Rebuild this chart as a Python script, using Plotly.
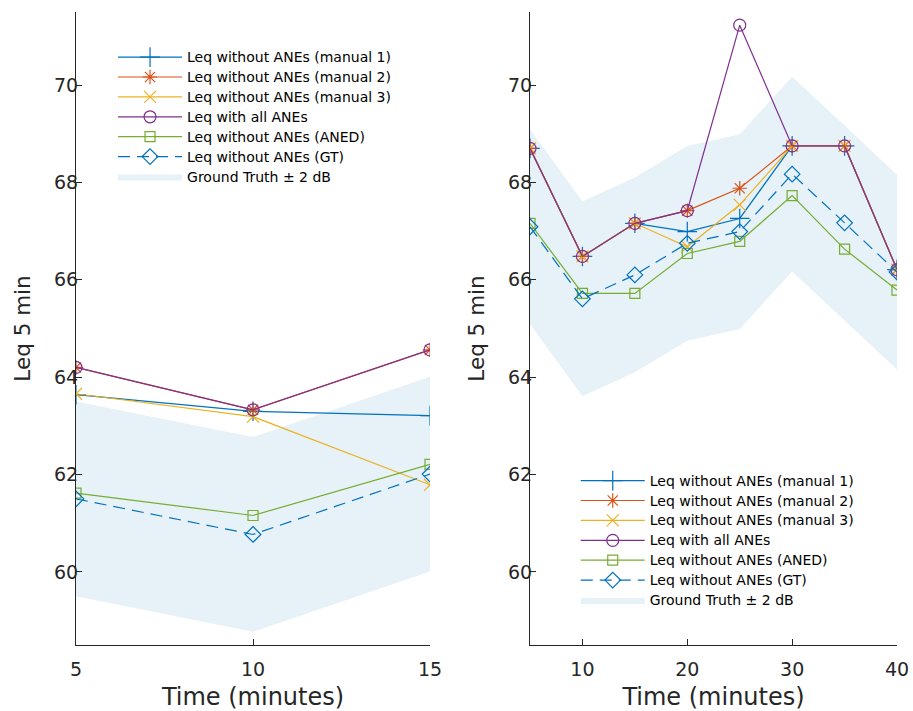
import plotly.graph_objects as go

# ---------------- data ----------------
left_time = [5, 10, 15]
left_manual1 = [63.64, 63.30, 63.21]
left_manual2 = [64.20, 63.33, 64.56]
left_manual3 = [63.66, 63.19, 61.79]
left_all = [64.20, 63.33, 64.56]
left_aned = [61.62, 61.16, 62.21]
left_gt = [61.50, 60.77, 62.01]

right_time = [5, 10, 15, 20, 25, 30, 35, 40]
right_manual1 = [68.70, 66.48, 67.16, 66.99, 67.26, 68.75, 68.75, 66.21]
right_manual2 = [68.70, 66.48, 67.16, 67.42, 67.88, 68.75, 68.75, 66.21]
right_manual3 = [68.70, 66.48, 67.16, 66.68, 67.54, 68.75, 68.75, 66.21]
right_all = [68.70, 66.48, 67.16, 67.42, 71.23, 68.75, 68.75, 66.21]
right_aned = [67.16, 65.72, 65.72, 66.54, 66.79, 67.73, 66.63, 65.79]
right_gt = [67.09, 65.61, 66.10, 66.75, 66.99, 68.17, 67.17, 66.16]

band_halfwidth = 2.0

names = ["Leq without ANEs (manual 1)", "Leq without ANEs (manual 2)",
         "Leq without ANEs (manual 3)", "Leq with all ANEs",
         "Leq without ANEs (ANED)", "Leq without ANEs (GT)"]
band_name = "Ground Truth \u00b1 2 dB"
y_ticks = [60, 62, 64, 66, 68, 70]
left_xticks = [5, 10, 15]
right_xticks = [10, 20, 30, 40]

colors = ["#0072BD", "#D95319", "#EDB120", "#7E2F8E", "#77AC30", "#0072BD"]
symbols = ["cross-thin", "asterisk-open", "x-thin-open", "circle-open",
           "square-open", "diamond-open"]
sizes = [14, 12, 12, 12, 10, 12]
dashes = ["solid"] * 5 + ["12px,7px"]
band_color = "#E6F1F8"
axis_color = "#262626"


def leg_label(s):
    return '<span style="font-size:14px">' + s + '</span>'


fig = go.Figure()


def add_panel(t, series, gt, xa, ya, legend):
    lo = [v - band_halfwidth for v in gt]
    hi = [v + band_halfwidth for v in gt]
    fig.add_trace(go.Scatter(
        x=list(t) + list(t)[::-1], y=hi + lo[::-1], fill="toself",
        fillcolor=band_color, mode="lines", line=dict(width=0, color=band_color),
        name=leg_label(band_name), legend=legend, legendrank=2000,
        xaxis=xa, yaxis=ya, hoverinfo="skip"))
    for i, s in enumerate(series):
        fig.add_trace(go.Scatter(
            x=t, y=s, mode="lines+markers", name=leg_label(names[i]),
            legend=legend, legendrank=1000 + i,
            line=dict(color=colors[i], width=1.2, dash=dashes[i]),
            marker=dict(symbol=symbols[i], size=sizes[i], color=colors[i],
                        line=dict(color=colors[i], width=1.2)),
            xaxis=xa, yaxis=ya))


add_panel(left_time, [left_manual1, left_manual2, left_manual3, left_all,
                      left_aned, left_gt], left_gt, "x", "y", "legend")
add_panel(right_time, [right_manual1, right_manual2, right_manual3, right_all,
                       right_aned, right_gt], right_gt, "x2", "y2", "legend2")

axis_common = dict(showline=True, linecolor=axis_color, linewidth=1,
                   ticks="inside", ticklen=6, tickcolor=axis_color, tickwidth=1,
                   showgrid=False, zeroline=False, mirror=False, automargin=False,
                   tickfont=dict(family="DejaVu Sans", size=19, color=axis_color))

xtitle = dict(text="Time (minutes)", font=dict(size=24), standoff=23)
ytitle = dict(text="Leq 5 min", font=dict(size=21.5), standoff=17)

fig.update_layout(
    width=913, height=711,
    margin=dict(l=76, r=16, t=12, b=66, autoexpand=False),
    paper_bgcolor="white", plot_bgcolor="white",
    font=dict(family="DejaVu Sans", color=axis_color),
    xaxis=dict(domain=[0, 0.4312], range=[5, 15], tickvals=left_xticks,
               title=xtitle, anchor="y", ticklabelstandoff=7, **axis_common),
    yaxis=dict(range=[58.5, 71.5], tickvals=y_ticks, title=ytitle,
               anchor="x", ticklabelstandoff=-7, **axis_common),
    xaxis2=dict(domain=[0.553, 1], range=[5, 40], tickvals=right_xticks,
                title=xtitle, anchor="y2", ticklabelstandoff=7, **axis_common),
    yaxis2=dict(range=[58.5, 71.5], tickvals=y_ticks, title=ytitle,
                anchor="x2", ticklabelstandoff=-7, **axis_common),
    legend=dict(x=0.0451, y=0.9524, xanchor="left", yanchor="top",
                bgcolor="rgba(0,0,0,0)", borderwidth=0, itemwidth=64,
                font=dict(size=13, color="#000000"), tracegroupgap=0),
    legend2=dict(x=0.6087, y=0.2833, xanchor="left", yanchor="top",
                 bgcolor="rgba(0,0,0,0)", borderwidth=0, itemwidth=64,
                 font=dict(size=13, color="#000000"), tracegroupgap=0),
    showlegend=True,
)

# remove the default page margin so the figure fills the window exactly
fig.write_html("out.html",
               config={"displayModeBar": False},
               post_script="document.body.style.margin='0';"
                           "document.body.style.overflow='hidden';")
